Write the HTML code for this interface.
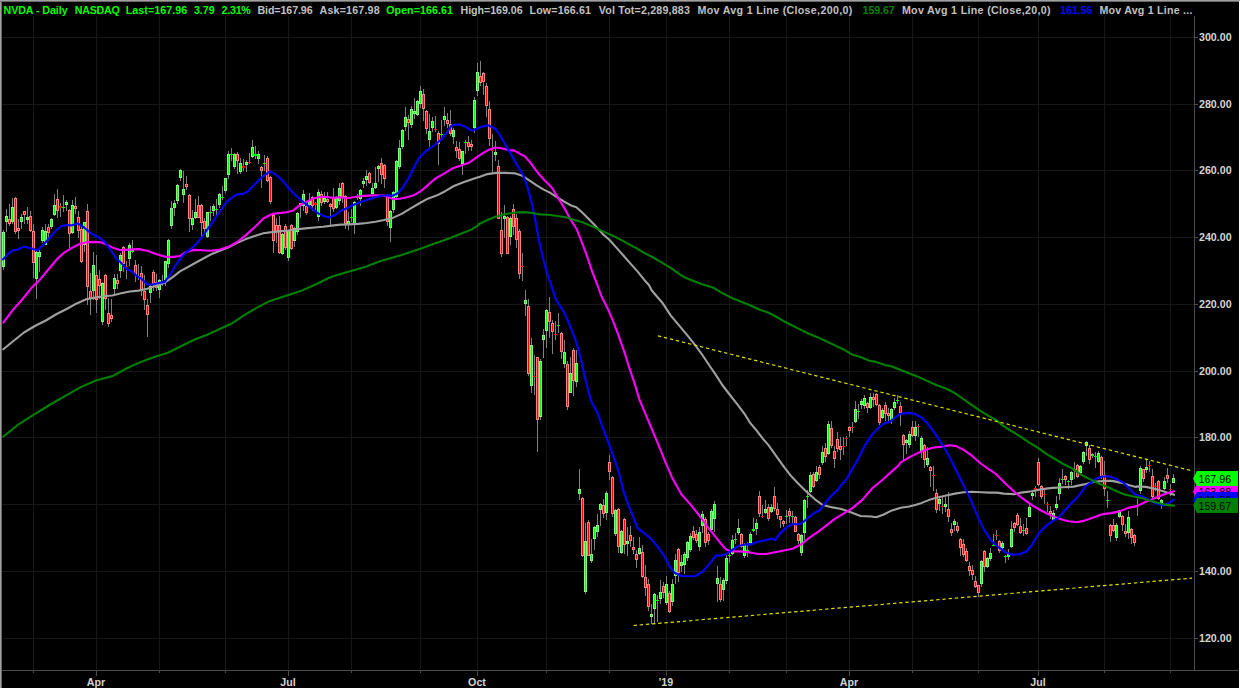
<!DOCTYPE html>
<html><head><meta charset="utf-8"><title>NVDA - Daily</title>
<style>
html,body{margin:0;padding:0;background:#000;}
body{width:1240px;height:688px;overflow:hidden;position:relative;font-family:"Liberation Sans",Arial,sans-serif;}
#chart{position:absolute;left:0;top:0;width:1240px;height:688px;background:#000;overflow:hidden;}
#bl{position:absolute;left:0;top:0;width:1px;height:688px;background:#a0a0a0;border-right:1px solid #696969;}
#bt{position:absolute;left:0;top:0;width:1240px;height:1px;background:#a0a0a0;border-bottom:1px solid #696969;}
#br{position:absolute;left:1239px;top:1px;width:1px;height:687px;background:#fff;}
#hdr span{position:absolute;top:4px;font-size:10.67px;line-height:12px;font-weight:bold;white-space:pre;}
.tg{}
</style></head><body>
<div id="chart">
<svg width="1240" height="688" viewBox="0 0 1240 688" style="position:absolute;left:0;top:0">
<g shape-rendering="crispEdges">
<path d="M33.5 16V669 M96.5 16V669 M159.5 16V669 M225.5 16V669 M288.5 16V669 M351.5 16V669 M420.5 16V669 M477.5 16V669 M546.5 16V669 M609.5 16V669 M666.5 16V669 M729.5 16V669 M786.5 16V669 M849.5 16V669 M912.5 16V669 M978.5 16V669 M1038.5 16V669 M1104.5 16V669 M1170.5 16V669 M2 37.5H1194 M2 104.5H1194 M2 170.5H1194 M2 237.5H1194 M2 304.5H1194 M2 371.5H1194 M2 437.5H1194 M2 504.5H1194 M2 571.5H1194 M2 638.5H1194" stroke="#171717" stroke-width="1" fill="none"/>
<path d="M1194.5 16V670 M2 670.5H1239 M1195 37.5H1198 M1195 104.5H1198 M1195 170.5H1198 M1195 237.5H1198 M1195 304.5H1198 M1195 371.5H1198 M1195 437.5H1198 M1195 504.5H1198 M1195 571.5H1198 M1195 638.5H1198 M33.5 671V673 M96.5 671V676 M159.5 671V673 M225.5 671V673 M288.5 671V676 M351.5 671V673 M420.5 671V673 M477.5 671V676 M546.5 671V673 M609.5 671V673 M666.5 671V676 M729.5 671V673 M786.5 671V673 M849.5 671V676 M912.5 671V673 M978.5 671V673 M1038.5 671V676 M1104.5 671V673 M1170.5 671V673" stroke="#4c4c4c" stroke-width="1" fill="none"/>
<path d="M3.5 230V270 M6.5 209V232 M9.5 204V226 M12.5 198V224 M15.5 197V234 M18.5 219V239 M21.5 214V229 M24.5 211V224 M27.5 207V224 M30.5 211V232 M33.5 224V278 M36.5 250V299 M39.5 250V272 M42.5 227V243 M45.5 224V245 M48.5 224V241 M51.5 218V229 M54.5 194V216 M57.5 189V218 M60.5 203V217 M63.5 195V212 M66.5 200V211 M69.5 209V248 M72.5 200V234 M75.5 197V214 M78.5 211V238 M81.5 227V263 M84.5 222V252 M87.5 204V305 M90.5 273V315 M93.5 252V300 M96.5 255V313 M99.5 270V299 M102.5 282V325 M105.5 274V310 M108.5 298V327 M111.5 299V322 M114.5 274V296 M117.5 274V289 M120.5 253V278 M123.5 246V272 M126.5 261V279 M129.5 243V266 M132.5 240V253 M135.5 260V282 M138.5 264V280 M141.5 266V296 M144.5 275V310 M147.5 299V337 M150.5 284V303 M153.5 270V291 M156.5 274V291 M159.5 279V298 M162.5 275V286 M165.5 261V286 M168.5 239V268 M171.5 201V229 M174.5 200V216 M177.5 184V204 M180.5 169V181 M183.5 171V203 M186.5 176V190 M189.5 194V232 M192.5 210V230 M195.5 199V219 M198.5 196V218 M201.5 204V237 M204.5 218V233 M207.5 212V238 M210.5 206V221 M213.5 204V216 M216.5 199V216 M219.5 193V208 M222.5 186V200 M225.5 178V193 M228.5 151V179 M231.5 148V161 M234.5 153V169 M237.5 152V174 M240.5 158V174 M243.5 159V171 M246.5 160V172 M249.5 153V164 M252.5 140V158 M255.5 146V159 M258.5 151V164 M261.5 166V188 M264.5 155V171 M267.5 156V182 M270.5 176V204 M273.5 214V253 M276.5 218V243 M279.5 216V254 M282.5 233V255 M285.5 224V250 M288.5 230V261 M291.5 224V250 M294.5 227V247 M297.5 212V235 M300.5 203V218 M303.5 190V211 M306.5 203V215 M309.5 193V206 M312.5 196V211 M315.5 202V210 M318.5 189V221 M321.5 191V206 M324.5 192V204 M327.5 192V203 M330.5 203V225 M333.5 188V212 M336.5 196V209 M339.5 183V205 M342.5 182V203 M345.5 195V229 M348.5 212V230 M351.5 209V222 M354.5 201V234 M357.5 194V200 M360.5 189V206 M363.5 178V188 M366.5 170V186 M369.5 172V184 M372.5 183V195 M375.5 167V189 M378.5 165V182 M381.5 158V184 M384.5 164V188 M387.5 194V226 M390.5 210V242 M393.5 191V213 M396.5 160V198 M399.5 140V169 M402.5 129V149 M405.5 107V131 M408.5 115V140 M411.5 106V128 M414.5 98V119 M417.5 100V116 M420.5 86V108 M423.5 89V121 M426.5 110V134 M429.5 114V147 M432.5 117V132 M435.5 116V132 M438.5 131V165 M441.5 120V137 M444.5 107V126 M447.5 113V128 M450.5 110V136 M453.5 128V144 M456.5 141V158 M459.5 142V161 M462.5 151V175 M465.5 140V154 M468.5 136V151 M471.5 140V151 M474.5 97V133 M477.5 63V96 M480.5 61V86 M483.5 72V95 M486.5 83V117 M489.5 101V146 M492.5 134V174 M495.5 141V161 M498.5 160V219 M501.5 212V257 M504.5 205V238 M507.5 216V254 M510.5 216V245 M513.5 204V235 M516.5 214V248 M519.5 229V279 M522.5 253V281 M525.5 290V316 M528.5 299V376 M531.5 338V393 M534.5 355V395 M537.5 357V452 M540.5 359V420 M543.5 329V358 M546.5 309V348 M549.5 297V338 M552.5 320V354 M555.5 321V340 M558.5 313V333 M561.5 332V359 M564.5 340V368 M567.5 361V410 M570.5 357V393 M573.5 348V396 M576.5 350V387 M579.5 469V500 M582.5 497V557 M585.5 523V594 M588.5 520V556 M591.5 539V563 M594.5 526V550 M597.5 514V537 M600.5 503V526 M603.5 499V518 M606.5 491V520 M609.5 455V480 M612.5 476V517 M615.5 509V536 M618.5 508V553 M621.5 530V554 M624.5 518V554 M627.5 527V556 M630.5 526V547 M633.5 537V554 M636.5 550V568 M639.5 537V555 M642.5 545V578 M645.5 565V596 M648.5 579V611 M651.5 604V624 M654.5 593V624 M657.5 595V622 M660.5 580V604 M663.5 582V598 M666.5 576V605 M669.5 591V613 M672.5 579V606 M675.5 554V584 M678.5 548V582 M681.5 555V572 M684.5 552V574 M687.5 541V561 M690.5 533V552 M693.5 526V540 M696.5 530V543 M699.5 527V551 M702.5 511V533 M705.5 517V547 M708.5 532V545 M711.5 509V532 M714.5 501V532 M717.5 566V602 M720.5 577V602 M723.5 578V601 M726.5 555V584 M729.5 553V563 M732.5 535V555 M735.5 533V544 M738.5 519V535 M741.5 533V548 M744.5 543V558 M747.5 542V557 M750.5 532V545 M753.5 518V532 M756.5 519V535 M759.5 491V517 M762.5 505V518 M765.5 500V514 M768.5 504V521 M771.5 504V513 M774.5 487V511 M777.5 503V519 M780.5 516V528 M783.5 520V527 M786.5 510V524 M789.5 508V523 M792.5 511V525 M795.5 516V532 M798.5 533V544 M801.5 534V556 M804.5 499V540 M807.5 490V508 M810.5 472V493 M813.5 472V488 M816.5 466V482 M819.5 465V479 M822.5 446V465 M825.5 443V462 M828.5 421V455 M831.5 421V448 M834.5 446V468 M837.5 432V452 M840.5 437V460 M843.5 437V455 M846.5 436V446 M849.5 426V437 M852.5 422V433 M855.5 401V423 M858.5 404V419 M861.5 399V409 M864.5 395V409 M867.5 402V413 M870.5 393V409 M873.5 393V407 M876.5 393V406 M879.5 404V425 M882.5 408V419 M885.5 402V421 M888.5 408V421 M891.5 408V424 M894.5 398V410 M897.5 395V404 M900.5 402V426 M903.5 434V460 M906.5 439V454 M909.5 431V448 M912.5 421V437 M915.5 421V441 M918.5 424V437 M921.5 436V458 M924.5 444V468 M927.5 447V467 M930.5 466V487 M933.5 466V491 M936.5 489V513 M939.5 497V511 M942.5 497V514 M945.5 497V512 M948.5 492V522 M951.5 523V536 M954.5 519V531 M957.5 522V533 M960.5 538V556 M963.5 539V557 M966.5 548V562 M969.5 562V576 M972.5 565V580 M975.5 576V588 M978.5 585V597 M981.5 560V587 M984.5 550V572 M987.5 557V568 M990.5 548V561 M993.5 534V546 M996.5 530V540 M999.5 540V553 M1002.5 541V549 M1005.5 555V563 M1008.5 549V560 M1011.5 521V548 M1014.5 522V532 M1017.5 513V526 M1020.5 518V534 M1023.5 524V536 M1026.5 518V535 M1029.5 502V517 M1032.5 492V500 M1035.5 486V497 M1038.5 458V486 M1041.5 485V499 M1044.5 490V504 M1047.5 502V512 M1050.5 506V519 M1053.5 510V521 M1056.5 496V510 M1059.5 478V500 M1062.5 469V484 M1065.5 475V485 M1068.5 480V489 M1071.5 471V485 M1074.5 462V479 M1077.5 464V478 M1080.5 465V474 M1083.5 451V464 M1086.5 441V456 M1089.5 445V464 M1092.5 453V458 M1095.5 452V468 M1098.5 451V463 M1101.5 456V479 M1104.5 461V496 M1107.5 491V508 M1110.5 524V542 M1113.5 519V532 M1116.5 523V541 M1119.5 510V518 M1122.5 515V531 M1125.5 524V537 M1128.5 511V539 M1131.5 528V544 M1134.5 534V546 M1137.5 499V516 M1140.5 466V494 M1143.5 469V482 M1146.5 459V473 M1149.5 461V472 M1152.5 469V498 M1155.5 483V491 M1158.5 480V500 M1161.5 499V509 M1164.5 477V490 M1167.5 468V483 M1170.5 484V496 M1173.5 474V483" stroke="#808080" stroke-width="1" fill="none"/>
<path d="M2 232h3v35h-3zM5 216h3v6h-3zM11 207h3v15h-3zM20 217h3v5h-3zM26 217h3v3h-3zM35 252h3v27h-3zM38 252h3v5h-3zM41 230h3v11h-3zM44 231h3v14h-3zM50 219h3v8h-3zM53 205h3v10h-3zM65 202h3v3h-3zM71 205h3v28h-3zM83 222h3v23h-3zM92 265h3v26h-3zM101 283h3v39h-3zM113 278h3v11h-3zM119 255h3v16h-3zM128 245h3v14h-3zM149 286h3v7h-3zM158 280h3v10h-3zM164 261h3v19h-3zM167 240h3v24h-3zM170 208h3v18h-3zM173 203h3v5h-3zM176 185h3v16h-3zM179 170h3v8h-3zM182 189h3v6h-3zM191 218h3v7h-3zM194 212h3v6h-3zM206 212h3v25h-3zM212 206h3v5h-3zM218 194h3v11h-3zM224 178h3v13h-3zM227 154h3v21h-3zM233 154h3v13h-3zM239 163h3v9h-3zM245 162h3v3h-3zM251 147h3v10h-3zM257 154h3v5h-3zM281 234h3v20h-3zM287 230h3v28h-3zM293 228h3v13h-3zM296 213h3v19h-3zM302 194h3v12h-3zM308 201h3v4h-3zM317 192h3v25h-3zM323 198h3v4h-3zM335 198h3v10h-3zM338 188h3v13h-3zM347 221h3v4h-3zM353 202h3v23h-3zM359 190h3v9h-3zM362 181h3v3h-3zM365 176h3v4h-3zM371 188h3v6h-3zM374 183h3v5h-3zM377 166h3v3h-3zM389 211h3v17h-3zM392 192h3v18h-3zM395 161h3v36h-3zM398 148h3v19h-3zM401 130h3v17h-3zM404 117h3v10h-3zM410 109h3v16h-3zM413 111h3v3h-3zM416 101h3v14h-3zM419 91h3v13h-3zM428 131h3v9h-3zM431 121h3v7h-3zM443 116h3v4h-3zM452 130h3v7h-3zM461 151h3v13h-3zM473 100h3v28h-3zM476 72h3v19h-3zM494 152h3v3h-3zM503 216h3v3h-3zM509 218h3v19h-3zM524 300h3v4h-3zM530 345h3v41h-3zM539 361h3v56h-3zM542 335h3v5h-3zM545 310h3v21h-3zM563 352h3v12h-3zM569 373h3v20h-3zM575 363h3v19h-3zM578 489h3v5h-3zM584 541h3v51h-3zM590 554h3v7h-3zM593 527h3v12h-3zM596 525h3v7h-3zM599 504h3v6h-3zM605 493h3v20h-3zM614 510h3v24h-3zM620 531h3v22h-3zM626 541h3v3h-3zM638 548h3v6h-3zM650 614h3v3h-3zM653 594h3v15h-3zM659 592h3v7h-3zM665 584h3v19h-3zM671 584h3v18h-3zM674 560h3v16h-3zM680 562h3v4h-3zM683 554h3v11h-3zM686 542h3v16h-3zM689 536h3v14h-3zM698 532h3v15h-3zM701 514h3v12h-3zM710 511h3v19h-3zM713 504h3v15h-3zM716 578h3v6h-3zM722 580h3v10h-3zM725 558h3v23h-3zM731 540h3v14h-3zM737 528h3v5h-3zM743 544h3v12h-3zM749 534h3v9h-3zM755 523h3v6h-3zM764 509h3v4h-3zM770 507h3v5h-3zM800 535h3v18h-3zM803 500h3v33h-3zM809 475h3v17h-3zM815 472h3v9h-3zM821 452h3v11h-3zM827 424h3v30h-3zM854 409h3v13h-3zM860 401h3v4h-3zM863 398h3v8h-3zM869 397h3v11h-3zM881 410h3v8h-3zM890 409h3v11h-3zM893 402h3v6h-3zM905 440h3v3h-3zM908 434h3v11h-3zM914 427h3v9h-3zM920 438h3v13h-3zM926 458h3v7h-3zM938 499h3v5h-3zM944 504h3v3h-3zM953 521h3v4h-3zM980 561h3v23h-3zM986 558h3v9h-3zM989 553h3v6h-3zM1001 543h3v5h-3zM1007 554h3v3h-3zM1010 529h3v18h-3zM1028 507h3v10h-3zM1031 493h3v3h-3zM1052 513h3v7h-3zM1055 504h3v4h-3zM1058 483h3v11h-3zM1070 472h3v8h-3zM1079 466h3v7h-3zM1082 452h3v10h-3zM1085 442h3v4h-3zM1097 453h3v9h-3zM1115 525h3v13h-3zM1118 510h3v7h-3zM1127 517h3v16h-3zM1139 468h3v23h-3zM1145 467h3v3h-3zM1160 500h3v3h-3zM1163 481h3v8h-3zM1172 478h3v5h-3z" fill="#7dff7d"/>
<path d="M3 233h1v33h-1zM6 217h1v4h-1zM12 208h1v13h-1zM21 218h1v3h-1zM27 218h1v1h-1zM36 253h1v25h-1zM39 253h1v3h-1zM42 231h1v9h-1zM45 232h1v12h-1zM51 220h1v6h-1zM54 206h1v8h-1zM62 207h3v1h-3zM66 203h1v1h-1zM72 206h1v26h-1zM84 223h1v21h-1zM93 266h1v24h-1zM102 284h1v37h-1zM114 279h1v9h-1zM120 256h1v14h-1zM129 246h1v12h-1zM131 250h3v2h-3zM137 276h3v1h-3zM150 287h1v5h-1zM159 281h1v8h-1zM165 262h1v17h-1zM168 241h1v22h-1zM171 209h1v16h-1zM174 204h1v3h-1zM177 186h1v14h-1zM180 171h1v6h-1zM183 190h1v4h-1zM192 219h1v5h-1zM195 213h1v4h-1zM207 213h1v23h-1zM209 212h3v1h-3zM213 207h1v3h-1zM215 209h3v1h-3zM219 195h1v9h-1zM221 197h3v1h-3zM225 179h1v11h-1zM228 155h1v19h-1zM230 154h3v1h-3zM234 155h1v11h-1zM240 164h1v7h-1zM246 163h1v1h-1zM252 148h1v8h-1zM254 154h3v2h-3zM258 155h1v3h-1zM263 163h3v1h-3zM282 235h1v18h-1zM288 231h1v26h-1zM294 229h1v11h-1zM297 214h1v17h-1zM303 195h1v10h-1zM309 202h1v2h-1zM318 193h1v23h-1zM324 199h1v2h-1zM336 199h1v8h-1zM339 189h1v11h-1zM348 222h1v2h-1zM350 217h3v1h-3zM354 203h1v21h-1zM356 196h3v2h-3zM360 191h1v7h-1zM363 182h1v1h-1zM366 177h1v2h-1zM372 189h1v4h-1zM375 184h1v3h-1zM378 167h1v1h-1zM390 212h1v15h-1zM393 193h1v16h-1zM396 162h1v34h-1zM399 149h1v17h-1zM402 131h1v15h-1zM405 118h1v8h-1zM411 110h1v14h-1zM414 112h1v1h-1zM417 102h1v12h-1zM420 92h1v11h-1zM429 132h1v7h-1zM432 122h1v5h-1zM440 134h3v1h-3zM444 117h1v2h-1zM453 131h1v5h-1zM462 152h1v11h-1zM464 142h3v1h-3zM474 101h1v26h-1zM477 73h1v17h-1zM495 153h1v1h-1zM504 217h1v1h-1zM510 219h1v17h-1zM525 301h1v2h-1zM531 346h1v39h-1zM540 362h1v54h-1zM543 336h1v3h-1zM546 311h1v19h-1zM557 325h3v1h-3zM564 353h1v10h-1zM570 374h1v18h-1zM576 364h1v17h-1zM579 490h1v3h-1zM585 542h1v49h-1zM591 555h1v5h-1zM594 528h1v10h-1zM597 526h1v5h-1zM600 505h1v4h-1zM606 494h1v18h-1zM615 511h1v22h-1zM621 532h1v20h-1zM627 542h1v1h-1zM639 549h1v4h-1zM651 615h1v1h-1zM654 595h1v13h-1zM656 600h3v1h-3zM660 593h1v5h-1zM666 585h1v17h-1zM672 585h1v16h-1zM675 561h1v14h-1zM681 563h1v2h-1zM684 555h1v9h-1zM687 543h1v14h-1zM690 537h1v12h-1zM699 533h1v13h-1zM702 515h1v10h-1zM711 512h1v17h-1zM714 505h1v13h-1zM717 579h1v4h-1zM723 581h1v8h-1zM726 559h1v21h-1zM728 555h3v1h-3zM732 541h1v12h-1zM734 539h3v1h-3zM738 529h1v3h-1zM744 545h1v10h-1zM746 550h3v1h-3zM750 535h1v7h-1zM752 529h3v2h-3zM756 524h1v4h-1zM765 510h1v2h-1zM771 508h1v3h-1zM785 516h3v1h-3zM791 516h3v1h-3zM801 536h1v16h-1zM804 501h1v31h-1zM806 496h3v1h-3zM810 476h1v15h-1zM816 473h1v7h-1zM822 453h1v9h-1zM828 425h1v28h-1zM855 410h1v11h-1zM857 411h3v1h-3zM861 402h1v2h-1zM864 399h1v6h-1zM870 398h1v9h-1zM882 411h1v6h-1zM891 410h1v9h-1zM894 403h1v4h-1zM896 400h3v1h-3zM906 441h1v1h-1zM909 435h1v9h-1zM915 428h1v7h-1zM921 439h1v11h-1zM927 459h1v5h-1zM939 500h1v3h-1zM945 505h1v1h-1zM954 522h1v2h-1zM981 562h1v21h-1zM987 559h1v7h-1zM990 554h1v4h-1zM992 545h3v1h-3zM1002 544h1v3h-1zM1004 556h3v1h-3zM1008 555h1v1h-1zM1011 530h1v16h-1zM1022 530h3v1h-3zM1029 508h1v8h-1zM1032 494h1v1h-1zM1053 514h1v5h-1zM1056 505h1v2h-1zM1059 484h1v9h-1zM1061 479h3v1h-3zM1067 481h3v1h-3zM1071 473h1v6h-1zM1073 469h3v2h-3zM1080 467h1v5h-1zM1083 453h1v8h-1zM1086 443h1v2h-1zM1091 454h3v2h-3zM1094 456h3v1h-3zM1098 454h1v7h-1zM1106 500h3v1h-3zM1116 526h1v11h-1zM1119 511h1v5h-1zM1128 518h1v14h-1zM1136 505h3v1h-3zM1140 469h1v21h-1zM1146 468h1v1h-1zM1161 501h1v1h-1zM1164 482h1v6h-1zM1173 479h1v3h-1z" fill="#00ff00"/>
<path d="M8 219h3v5h-3zM14 198h3v34h-3zM17 228h3v3h-3zM23 211h3v4h-3zM29 216h3v15h-3zM32 231h3v32h-3zM47 227h3v6h-3zM56 199h3v12h-3zM68 210h3v24h-3zM74 206h3v3h-3zM77 217h3v14h-3zM80 229h3v33h-3zM86 211h3v76h-3zM89 291h3v7h-3zM95 275h3v25h-3zM98 279h3v7h-3zM104 275h3v24h-3zM107 313h3v11h-3zM110 315h3v4h-3zM116 280h3v4h-3zM122 247h3v17h-3zM134 265h3v10h-3zM140 273h3v18h-3zM143 291h3v9h-3zM146 305h3v10h-3zM152 272h3v12h-3zM155 282h3v6h-3zM185 184h3v3h-3zM188 195h3v24h-3zM197 205h3v13h-3zM200 205h3v18h-3zM203 221h3v8h-3zM236 154h3v7h-3zM260 167h3v4h-3zM266 158h3v23h-3zM269 177h3v25h-3zM272 215h3v26h-3zM275 225h3v7h-3zM278 225h3v28h-3zM284 226h3v22h-3zM290 225h3v24h-3zM299 203h3v3h-3zM305 206h3v7h-3zM311 197h3v9h-3zM320 194h3v9h-3zM326 199h3v3h-3zM329 204h3v3h-3zM332 197h3v12h-3zM341 183h3v14h-3zM344 196h3v28h-3zM368 173h3v10h-3zM380 163h3v12h-3zM383 165h3v14h-3zM386 196h3v26h-3zM407 119h3v4h-3zM422 94h3v15h-3zM425 111h3v18h-3zM437 133h3v11h-3zM446 120h3v4h-3zM449 124h3v10h-3zM455 147h3v4h-3zM458 149h3v10h-3zM467 142h3v5h-3zM470 144h3v3h-3zM479 76h3v7h-3zM482 73h3v9h-3zM485 86h3v20h-3zM488 109h3v30h-3zM497 166h3v53h-3zM500 230h3v24h-3zM506 217h3v37h-3zM512 209h3v18h-3zM515 218h3v22h-3zM518 231h3v43h-3zM527 306h3v68h-3zM536 357h3v63h-3zM548 312h3v10h-3zM551 323h3v9h-3zM560 333h3v19h-3zM566 364h3v43h-3zM572 350h3v31h-3zM581 498h3v58h-3zM587 522h3v34h-3zM602 505h3v9h-3zM608 462h3v10h-3zM611 477h3v37h-3zM617 509h3v38h-3zM623 519h3v26h-3zM629 535h3v6h-3zM632 547h3v3h-3zM635 554h3v6h-3zM641 552h3v25h-3zM644 577h3v11h-3zM647 584h3v23h-3zM662 586h3v7h-3zM668 593h3v19h-3zM677 549h3v24h-3zM692 531h3v7h-3zM695 534h3v7h-3zM704 519h3v24h-3zM707 534h3v7h-3zM719 584h3v16h-3zM740 534h3v13h-3zM758 496h3v18h-3zM767 507h3v12h-3zM773 496h3v13h-3zM776 509h3v6h-3zM779 516h3v4h-3zM782 521h3v3h-3zM788 511h3v5h-3zM794 517h3v15h-3zM797 534h3v7h-3zM812 474h3v13h-3zM818 467h3v8h-3zM824 448h3v9h-3zM830 428h3v18h-3zM833 451h3v8h-3zM836 439h3v10h-3zM839 446h3v4h-3zM848 427h3v4h-3zM866 403h3v5h-3zM872 397h3v3h-3zM875 394h3v11h-3zM878 405h3v18h-3zM884 405h3v9h-3zM887 413h3v3h-3zM899 406h3v7h-3zM902 435h3v10h-3zM911 427h3v9h-3zM923 445h3v15h-3zM929 467h3v4h-3zM935 493h3v17h-3zM947 509h3v8h-3zM950 529h3v4h-3zM956 526h3v5h-3zM959 539h3v9h-3zM962 544h3v11h-3zM965 551h3v10h-3zM968 566h3v5h-3zM971 570h3v5h-3zM974 581h3v6h-3zM977 585h3v8h-3zM983 551h3v16h-3zM998 541h3v10h-3zM1013 523h3v5h-3zM1016 515h3v10h-3zM1019 526h3v7h-3zM1025 528h3v6h-3zM1037 462h3v23h-3zM1040 486h3v11h-3zM1049 511h3v3h-3zM1064 476h3v4h-3zM1076 465h3v12h-3zM1088 448h3v12h-3zM1100 457h3v20h-3zM1103 475h3v14h-3zM1109 525h3v11h-3zM1112 525h3v6h-3zM1121 516h3v9h-3zM1124 531h3v3h-3zM1130 529h3v9h-3zM1133 535h3v8h-3zM1142 469h3v10h-3zM1151 476h3v21h-3zM1157 481h3v18h-3zM1166 475h3v4h-3z" fill="#ff8080"/>
<path d="M9 220h1v3h-1zM15 199h1v32h-1zM18 229h1v1h-1zM24 212h1v2h-1zM30 217h1v13h-1zM33 232h1v30h-1zM48 228h1v4h-1zM57 200h1v10h-1zM59 206h3v2h-3zM69 211h1v22h-1zM75 207h1v1h-1zM78 218h1v12h-1zM81 230h1v31h-1zM87 212h1v74h-1zM90 292h1v5h-1zM96 276h1v23h-1zM99 280h1v5h-1zM105 276h1v22h-1zM108 314h1v9h-1zM111 316h1v2h-1zM117 281h1v2h-1zM123 248h1v15h-1zM125 266h3v1h-3zM135 266h1v8h-1zM141 274h1v16h-1zM144 292h1v7h-1zM147 306h1v8h-1zM153 273h1v10h-1zM156 283h1v4h-1zM161 282h3v2h-3zM186 185h1v1h-1zM189 196h1v22h-1zM198 206h1v11h-1zM201 206h1v16h-1zM204 222h1v6h-1zM237 155h1v5h-1zM242 166h3v2h-3zM248 162h3v1h-3zM261 168h1v2h-1zM267 159h1v21h-1zM270 178h1v23h-1zM273 216h1v24h-1zM276 226h1v5h-1zM279 226h1v26h-1zM285 227h1v20h-1zM291 226h1v22h-1zM300 204h1v1h-1zM306 207h1v5h-1zM312 198h1v7h-1zM314 203h3v2h-3zM321 195h1v7h-1zM327 200h1v1h-1zM330 205h1v1h-1zM333 198h1v10h-1zM342 184h1v12h-1zM345 197h1v26h-1zM369 174h1v8h-1zM381 164h1v10h-1zM384 166h1v12h-1zM387 197h1v24h-1zM408 120h1v2h-1zM423 95h1v13h-1zM426 112h1v16h-1zM434 129h3v1h-3zM438 134h1v9h-1zM447 121h1v2h-1zM450 125h1v8h-1zM456 148h1v2h-1zM459 150h1v8h-1zM468 143h1v3h-1zM471 145h1v1h-1zM480 77h1v5h-1zM483 74h1v7h-1zM486 87h1v18h-1zM489 110h1v28h-1zM491 150h3v1h-3zM498 167h1v51h-1zM501 231h1v22h-1zM507 218h1v35h-1zM513 210h1v16h-1zM516 219h1v20h-1zM519 232h1v41h-1zM521 266h3v1h-3zM528 307h1v66h-1zM533 376h3v1h-3zM537 358h1v61h-1zM549 313h1v8h-1zM552 324h1v7h-1zM554 334h3v1h-3zM561 334h1v17h-1zM567 365h1v41h-1zM573 351h1v29h-1zM582 499h1v56h-1zM588 523h1v32h-1zM603 506h1v7h-1zM609 463h1v8h-1zM612 478h1v35h-1zM618 510h1v36h-1zM624 520h1v24h-1zM630 536h1v4h-1zM633 548h1v1h-1zM636 555h1v4h-1zM642 553h1v23h-1zM645 578h1v9h-1zM648 585h1v21h-1zM663 587h1v5h-1zM669 594h1v17h-1zM678 550h1v22h-1zM693 532h1v5h-1zM696 535h1v5h-1zM705 520h1v22h-1zM708 535h1v5h-1zM720 585h1v14h-1zM741 535h1v11h-1zM759 497h1v16h-1zM761 516h3v1h-3zM768 508h1v10h-1zM774 497h1v11h-1zM777 510h1v4h-1zM780 517h1v2h-1zM783 522h1v1h-1zM789 512h1v3h-1zM795 518h1v13h-1zM798 535h1v5h-1zM813 475h1v11h-1zM819 468h1v6h-1zM825 449h1v7h-1zM831 429h1v16h-1zM834 452h1v6h-1zM837 440h1v8h-1zM840 447h1v2h-1zM842 446h3v1h-3zM845 438h3v1h-3zM849 428h1v2h-1zM851 427h3v1h-3zM867 404h1v3h-1zM873 398h1v1h-1zM876 395h1v9h-1zM879 406h1v16h-1zM885 406h1v7h-1zM888 414h1v1h-1zM900 407h1v5h-1zM903 436h1v8h-1zM912 428h1v7h-1zM917 426h3v1h-3zM924 446h1v13h-1zM930 468h1v2h-1zM932 475h3v1h-3zM936 494h1v15h-1zM941 506h3v1h-3zM948 510h1v6h-1zM951 530h1v2h-1zM957 527h1v3h-1zM960 540h1v7h-1zM963 545h1v9h-1zM966 552h1v8h-1zM969 567h1v3h-1zM972 571h1v3h-1zM975 582h1v4h-1zM978 586h1v6h-1zM984 552h1v14h-1zM995 535h3v1h-3zM999 542h1v8h-1zM1014 524h1v3h-1zM1017 516h1v8h-1zM1020 527h1v5h-1zM1026 529h1v4h-1zM1034 488h3v2h-3zM1038 463h1v21h-1zM1041 487h1v9h-1zM1043 494h3v1h-3zM1046 504h3v1h-3zM1050 512h1v1h-1zM1065 477h1v2h-1zM1077 466h1v10h-1zM1089 449h1v10h-1zM1101 458h1v18h-1zM1104 476h1v12h-1zM1110 526h1v9h-1zM1113 526h1v4h-1zM1122 517h1v7h-1zM1125 532h1v1h-1zM1131 530h1v7h-1zM1134 536h1v6h-1zM1143 470h1v8h-1zM1148 465h3v1h-3zM1152 477h1v19h-1zM1154 486h3v1h-3zM1158 482h1v16h-1zM1167 476h1v2h-1zM1169 489h3v1h-3z" fill="#ff0000"/>
</g>
<path d="M3.3 349.3 L13.1 341.3 L24.0 332.5 L34.9 326.0 L45.8 320.5 L56.7 314.0 L67.6 308.5 L76.3 303.7 L85.1 299.8 L86.2 299.3 L94.9 297.6 L103.6 296.2 L112.3 295.5 L121.1 293.2 L129.8 291.5 L138.5 290.6 L147.2 288.8 L155.9 285.7 L164.7 282.7 L173.4 276.6 L180.0 271.4 L200.6 260.0 L211.1 254.3 L219.8 250.8 L228.5 247.3 L237.2 242.9 L245.9 239.1 L254.7 235.9 L263.4 233.3 L270.0 232.4 L270.7 232.2 L279.4 231.4 L288.2 230.5 L296.9 229.3 L305.6 228.4 L314.3 227.5 L323.1 226.7 L331.8 225.6 L340.5 224.6 L349.2 224.4 L358.0 223.9 L366.7 223.0 L375.4 221.8 L384.1 220.0 L392.9 217.9 L401.6 213.9 L410.3 208.7 L419.0 203.5 L427.8 198.7 L436.5 195.6 L445.2 191.2 L453.9 186.0 L462.7 182.5 L471.4 179.5 L478.0 177.3 L478.7 177.2 L487.4 174.1 L496.2 172.9 L504.9 172.9 L515.4 173.4 L522.3 175.8 L529.3 180.4 L536.3 185.1 L543.3 189.4 L550.3 192.9 L557.2 197.3 L564.2 201.6 L571.2 205.5 L576.4 207.2 L581.7 212.1 L588.7 219.1 L595.6 226.1 L602.6 233.9 L609.6 240.0 L616.6 247.9 L623.6 255.7 L630.5 263.6 L637.5 271.4 L644.5 280.2 L648.9 285.0 L651.8 290.5 L662.3 302.7 L671.0 315.8 L679.7 326.2 L688.4 336.7 L695.4 345.4 L702.4 355.0 L709.4 365.5 L716.0 375.1 L722.3 385.0 L728.8 393.5 L736.6 403.3 L744.5 413.8 L749.7 422.3 L756.3 430.2 L762.8 438.7 L768.1 444.6 L775.9 455.7 L782.5 464.8 L790.3 475.1 L797.4 482.7 L806.2 491.4 L814.9 499.3 L822.7 505.0 L832.6 507.4 L841.3 509.0 L850.1 512.1 L860.5 516.0 L871.0 516.5 L876.2 517.3 L883.2 514.7 L891.9 510.4 L900.7 507.7 L909.4 506.5 L916.0 504.8 L920.0 503.6 L928.7 500.1 L937.4 497.4 L946.2 495.4 L954.9 493.6 L963.6 492.2 L972.3 491.7 L981.1 492.2 L989.8 492.6 L996.8 492.6 L1003.8 493.6 L1014.2 494.3 L1021.2 492.6 L1031.7 491.3 L1042.1 489.1 L1052.6 487.9 L1063.1 487.3 L1073.6 486.6 L1084.0 484.4 L1094.5 481.7 L1105.0 480.9 L1111.9 480.9 L1120.7 482.6 L1129.4 485.2 L1136.0 487.0 L1137.0 486.4 L1145.8 486.9 L1154.5 488.7 L1163.2 491.3 L1170.2 493.4 L1174.0 494.8" stroke="#a0a0a0" stroke-width="2.1" fill="none" stroke-linejoin="round" stroke-linecap="round"/>
<path d="M3.3 322.7 L13.1 309.6 L21.8 300.0 L31.4 288.1 L40.1 279.4 L48.8 269.0 L57.6 258.5 L64.5 252.4 L73.3 247.2 L80.2 243.7 L87.2 242.3 L94.2 241.9 L101.2 242.4 L108.1 245.4 L115.1 248.6 L120.0 250.1 L129.8 249.6 L138.5 249.1 L147.2 250.8 L155.9 254.0 L164.7 256.6 L173.4 256.9 L180.0 256.0 L184.9 252.5 L193.6 249.9 L202.3 250.2 L211.1 250.8 L219.8 249.5 L228.5 246.8 L237.2 242.0 L245.9 235.1 L254.7 227.2 L263.4 218.5 L270.0 215.0 L272.5 213.9 L279.4 213.1 L286.4 212.2 L293.4 210.4 L298.6 206.1 L305.6 202.2 L312.6 198.7 L319.6 197.0 L326.6 197.0 L333.5 197.9 L340.5 197.3 L347.5 198.2 L354.5 197.0 L361.5 196.1 L368.4 195.6 L375.4 195.3 L382.4 195.6 L387.6 196.5 L392.9 199.1 L399.8 198.7 L406.8 197.3 L413.8 195.3 L420.8 191.2 L427.8 185.1 L434.7 179.0 L443.5 173.8 L452.2 168.6 L460.9 165.6 L469.6 162.4 L478.0 156.3 L482.9 153.1 L488.2 150.1 L495.2 147.5 L502.1 148.4 L509.1 150.1 L514.4 150.6 L519.6 153.6 L524.8 156.2 L530.1 162.3 L535.3 169.3 L539.7 175.0 L545.0 180.7 L552.0 187.7 L557.2 196.4 L564.2 207.7 L570.3 219.1 L576.4 228.7 L581.7 241.8 L586.9 255.7 L592.1 271.4 L597.4 285.0 L601.2 295.7 L608.2 309.7 L613.4 321.9 L618.7 335.8 L624.8 353.3 L629.1 367.2 L634.4 382.9 L639.6 400.0 L644.8 412.4 L651.8 429.0 L658.8 445.6 L665.8 463.1 L672.7 478.8 L681.5 494.5 L690.2 504.1 L698.9 515.0 L707.0 526.1 L714.0 534.8 L720.9 543.5 L726.2 549.6 L731.4 551.4 L740.1 551.4 L748.9 552.2 L757.6 554.0 L766.3 554.0 L775.0 552.2 L783.8 550.5 L792.5 548.8 L801.2 544.4 L809.9 537.4 L818.7 531.3 L825.6 526.1 L834.4 519.1 L843.1 513.9 L851.8 508.6 L862.3 499.9 L872.7 487.7 L881.5 480.7 L890.2 472.9 L898.9 465.0 L900.4 462.6 L909.1 457.4 L917.8 453.1 L926.6 449.6 L933.6 447.5 L940.5 446.9 L949.3 445.2 L956.2 446.1 L963.2 449.6 L971.9 455.7 L980.7 463.5 L989.4 469.6 L996.0 474.0 L997.4 475.6 L1006.2 484.3 L1014.9 492.2 L1023.6 499.2 L1032.3 505.3 L1041.1 510.5 L1049.8 514.9 L1058.5 518.4 L1067.2 521.0 L1076.0 522.2 L1084.7 520.6 L1093.4 517.5 L1102.1 514.3 L1110.9 513.1 L1119.6 511.4 L1128.3 507.9 L1137.0 506.1 L1145.8 501.8 L1154.5 498.3 L1163.2 494.8 L1170.2 492.2 L1174.0 491.3" stroke="#ff00ff" stroke-width="2.1" fill="none" stroke-linejoin="round" stroke-linecap="round"/>
<path d="M3.1 259.4 L7.8 254.1 L13.1 250.3 L17.4 249.8 L23.5 246.6 L29.7 248.0 L37.5 250.3 L43.6 244.5 L50.6 236.7 L55.8 230.6 L61.1 226.2 L66.3 225.0 L71.5 225.4 L77.6 223.3 L83.7 227.1 L90.7 233.2 L97.7 236.7 L104.7 241.9 L111.6 251.5 L116.9 259.4 L120.0 261.6 L126.3 268.8 L131.5 271.4 L136.7 275.8 L142.0 279.2 L147.2 284.5 L152.4 284.5 L157.7 283.3 L164.7 281.9 L169.9 274.9 L175.1 266.2 L180.0 259.2 L184.9 253.4 L191.9 248.1 L197.1 242.9 L202.3 236.8 L207.6 229.0 L212.8 222.0 L219.8 211.5 L226.7 201.9 L232.0 197.6 L237.2 194.4 L242.4 194.1 L247.7 191.5 L254.7 184.5 L261.6 177.5 L270.0 171.4 L276.0 174.7 L282.9 180.8 L289.9 189.5 L296.9 196.5 L303.9 202.6 L310.9 207.8 L317.8 213.1 L324.8 216.5 L330.1 217.4 L335.3 214.8 L340.5 211.0 L345.8 208.7 L352.7 205.2 L359.7 202.2 L366.7 200.0 L373.7 197.7 L380.7 196.0 L387.6 195.3 L392.9 195.6 L398.1 193.0 L403.3 186.9 L408.6 178.2 L413.8 167.7 L419.0 158.1 L426.0 151.1 L434.7 145.0 L441.1 139.6 L446.3 133.5 L451.5 125.7 L455.0 124.4 L460.3 124.8 L465.5 126.9 L472.1 130.9 L477.7 128.3 L482.9 126.5 L488.2 125.3 L496.0 129.2 L502.1 138.8 L509.1 151.0 L516.1 163.2 L523.1 175.0 L527.6 187.7 L531.9 203.4 L535.4 220.8 L538.9 240.0 L543.3 259.2 L547.6 274.9 L551.1 285.0 L555.8 299.2 L564.6 313.2 L569.8 325.4 L575.9 341.1 L579.4 353.3 L582.0 363.8 L585.5 379.5 L590.7 400.0 L592.5 403.7 L597.7 413.3 L602.9 428.2 L608.2 442.1 L613.4 456.1 L618.7 471.8 L623.9 492.7 L629.1 506.7 L632.6 515.0 L634.4 520.5 L637.8 528.3 L643.1 532.3 L650.1 537.9 L657.0 545.8 L664.0 555.4 L669.3 565.8 L674.5 572.8 L681.5 576.0 L688.4 576.3 L695.4 576.0 L702.4 571.9 L709.4 564.1 L716.0 555.4 L720.9 555.7 L726.2 554.0 L731.4 550.5 L738.4 546.1 L745.4 544.4 L750.6 544.4 L757.6 541.8 L764.6 540.4 L771.5 538.6 L775.0 540.0 L780.3 533.1 L787.2 526.9 L792.5 524.0 L799.5 524.3 L804.7 520.8 L811.7 514.7 L820.4 509.5 L829.1 498.2 L837.8 489.4 L846.6 479.0 L858.5 458.3 L865.5 444.3 L872.5 433.9 L879.5 426.9 L884.7 423.0 L889.9 422.0 L895.2 417.3 L900.4 413.8 L907.4 412.9 L914.4 413.8 L921.3 417.3 L928.3 424.3 L935.3 433.9 L942.3 444.3 L949.3 456.5 L956.2 470.5 L963.2 484.5 L970.2 498.4 L972.8 505.0 L974.1 507.9 L979.3 520.1 L984.6 530.6 L991.5 541.1 L998.5 547.2 L1005.5 552.4 L1012.5 554.7 L1019.5 554.2 L1026.4 551.5 L1031.7 545.4 L1038.7 533.2 L1045.6 526.2 L1052.6 521.0 L1057.8 518.4 L1064.8 510.5 L1071.8 502.7 L1078.8 495.7 L1085.8 486.1 L1092.7 481.7 L1095.2 479.1 L1102.1 476.5 L1109.1 476.5 L1116.1 478.7 L1123.1 482.6 L1130.1 489.6 L1135.3 494.8 L1142.3 496.5 L1149.3 500.0 L1156.2 503.5 L1163.2 505.6 L1168.4 503.5 L1173.7 499.7" stroke="#0000ff" stroke-width="2.1" fill="none" stroke-linejoin="round" stroke-linecap="round"/>
<path d="M3.3 436.6 L17.4 425.2 L32.7 415.4 L50.2 404.5 L65.4 395.8 L80.7 387.1 L96.0 380.5 L113.4 375.7 L126.5 368.5 L139.6 362.4 L152.7 357.6 L167.9 352.8 L181.0 346.3 L194.1 339.7 L207.2 334.7 L220.3 328.8 L231.2 323.8 L244.3 315.1 L257.4 307.4 L270.0 300.9 L302.1 290.4 L316.1 284.3 L330.1 277.3 L344.0 273.0 L354.5 270.0 L365.0 266.9 L370.2 265.0 L380.7 261.0 L391.1 258.1 L401.6 254.9 L412.1 251.4 L422.5 247.9 L433.0 244.1 L443.5 240.6 L453.9 236.6 L462.7 233.1 L471.4 229.6 L478.0 225.3 L478.7 224.3 L487.4 220.0 L496.2 216.5 L504.9 214.2 L515.4 212.5 L524.1 212.1 L532.8 213.0 L539.8 214.4 L548.5 214.7 L557.2 216.0 L566.0 217.3 L574.7 220.0 L583.4 222.6 L592.1 226.4 L600.9 230.4 L609.6 234.4 L618.3 238.3 L627.0 243.2 L635.8 247.9 L644.5 253.1 L653.2 257.5 L661.9 262.7 L670.7 267.9 L679.4 274.1 L686.0 278.1 L700.0 283.4 L714.0 288.1 L722.7 293.3 L733.2 298.6 L741.9 302.0 L750.6 305.5 L759.3 309.5 L768.1 312.5 L775.0 316.0 L783.8 321.2 L790.7 324.7 L799.5 329.1 L808.2 333.5 L816.9 336.9 L825.6 341.0 L834.4 345.1 L843.1 349.2 L851.8 354.4 L860.5 357.0 L869.3 360.8 L876.2 361.9 L885.0 364.9 L891.9 366.6 L900.7 370.1 L907.6 372.7 L916.0 375.9 L936.2 385.0 L945.8 388.5 L954.5 392.9 L963.2 399.0 L971.9 405.1 L980.7 411.2 L989.4 416.4 L996.0 419.9 L1001.8 425.0 L1011.4 431.1 L1020.1 436.3 L1028.9 442.4 L1037.6 447.7 L1046.3 453.8 L1055.0 459.0 L1063.8 464.3 L1072.5 468.6 L1081.2 474.7 L1089.9 479.1 L1098.7 483.5 L1107.4 486.9 L1116.1 491.0 L1124.8 494.4 L1133.6 496.5 L1142.3 498.3 L1151.0 500.9 L1159.7 503.2 L1166.7 504.9 L1174.0 505.6" stroke="#008000" stroke-width="2.1" fill="none" stroke-linejoin="round" stroke-linecap="round"/>
<path d="M657.9 335.8L1192 470.8M633.5 625.5L1192 578.1" stroke="#e0e000" stroke-width="1.2" stroke-dasharray="3.4 2.8" fill="none"/>
<g font-family="Liberation Sans, Arial, sans-serif" font-size="10.67px" font-weight="bold" fill="#d4d4d4">
<text x="1199" y="41.2">300.00</text>
<text x="1199" y="108.2">280.00</text>
<text x="1199" y="174.2">260.00</text>
<text x="1199" y="241.2">240.00</text>
<text x="1199" y="308.2">220.00</text>
<text x="1199" y="375.2">200.00</text>
<text x="1199" y="441.2">180.00</text>
<text x="1199" y="508.2">160.00</text>
<text x="1199" y="575.2">140.00</text>
<text x="1199" y="642.2">120.00</text>
<text x="96" y="686" text-anchor="middle">Apr</text>
<text x="288" y="686" text-anchor="middle">Jul</text>
<text x="477" y="686" text-anchor="middle">Oct</text>
<text x="666" y="686" text-anchor="middle">'19</text>
<text x="849" y="686" text-anchor="middle">Apr</text>
<text x="1038" y="686" text-anchor="middle">Jul</text>
</g>
<g font-family="Liberation Sans, Arial, sans-serif" font-size="10.67px" fill="#000">
<path d="M1193 491.5L1197 484H1238V499H1197Z" fill="#ff00ff"/>
<text x="1198.5" y="495.6" class="tg">163.88</text>
<path d="M1193 499.5L1197 492H1238V507H1197Z" fill="#0000ff"/>
<text x="1198.5" y="503.6" class="tg">161.56</text>
<path d="M1193 505.5L1197 498H1238V513H1197Z" fill="#008000"/>
<text x="1198.5" y="509.6" class="tg">159.67</text>
<path d="M1193 478.5L1197 471H1238V486H1197Z" fill="#00ff00"/>
<text x="1198.5" y="482.6" class="tg">167.96</text>
</g>
</svg>
<div id="hdr"><span style="left:3.5px;color:#00ff00;letter-spacing:-0.06px">NVDA - Daily</span><span style="left:74.8px;color:#00ff00;letter-spacing:-0.25px">NASDAQ</span><span style="left:125.8px;color:#00ff00;letter-spacing:0.06px">Last=167.96</span><span style="left:193.9px;color:#00ff00;letter-spacing:0px">3.79</span><span style="left:221.6px;color:#00ff00;letter-spacing:-0.26px">2.31%</span><span style="left:257.5px;color:#c0c0c0;letter-spacing:-0.1px">Bid=167.96</span><span style="left:319.5px;color:#c0c0c0;letter-spacing:0.2px">Ask=167.98</span><span style="left:386.2px;color:#00ff00;letter-spacing:0.07px">Open=166.61</span><span style="left:460.5px;color:#c0c0c0;letter-spacing:-0.04px">High=169.06</span><span style="left:529.5px;color:#c0c0c0;letter-spacing:0.15px">Low=166.61</span><span style="left:598.8px;color:#c0c0c0;letter-spacing:0.18px">Vol Tot=2,289,883</span><span style="left:697.5px;color:#c0c0c0;letter-spacing:0.32px">Mov Avg 1 Line (Close,200,0)</span><span style="left:862.6px;color:#008000;letter-spacing:-0.1px">159.67</span><span style="left:901.9px;color:#c0c0c0;letter-spacing:0.33px">Mov Avg 1 Line (Close,20,0)</span><span style="left:1060.3px;color:#0000ff;letter-spacing:-0.1px">161.56</span><span style="left:1099.4px;color:#c0c0c0;letter-spacing:0.22px">Mov Avg 1 Line ...</span></div>
<div id="bl"></div><div id="bt"></div><div id="br"></div>
</div>
</body></html>
